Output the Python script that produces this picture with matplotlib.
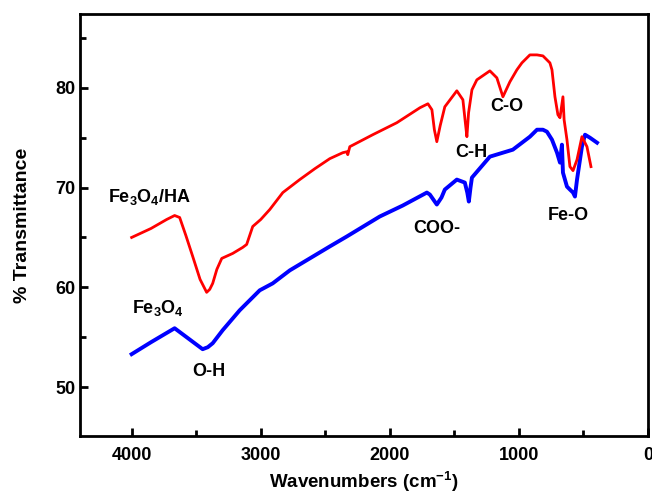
import matplotlib
matplotlib.use('Agg')
from matplotlib import pyplot as plt
from matplotlib.ticker import MultipleLocator

# FTIR spectra (wavenumber, % transmittance)
ha_wn = [4000, 3850, 3729, 3667, 3628, 3580, 3527, 3470, 3419, 3395, 3372, 3340, 3302,
         3217, 3140, 3109, 3062, 3000, 2930, 2829, 2698, 2580, 2465, 2364, 2330, 2326,
         2310, 2132, 1946, 1767, 1705, 1674, 1655, 1636, 1610, 1574, 1481, 1434, 1415,
         1403, 1390, 1364, 1326, 1225, 1171, 1124, 1070, 1016, 977, 915, 860, 814, 760,
         744, 721, 698, 682, 659, 650, 628, 605, 581, 550, 512, 473, 442]
ha_t = [65.0, 65.9, 66.8, 67.2, 67.0, 65.2, 63.1, 60.8, 59.5, 59.8, 60.4, 61.8, 62.9,
        63.4, 64.0, 64.3, 66.1, 66.8, 67.8, 69.5, 70.8, 71.9, 72.9, 73.5, 73.6, 73.3,
        74.1, 75.3, 76.5, 78.0, 78.4, 77.8, 75.8, 74.6, 76.2, 78.1, 79.7, 78.8, 76.5,
        75.1, 77.5, 79.8, 80.8, 81.7, 81.0, 79.1, 80.6, 81.8, 82.5, 83.3, 83.3, 83.2, 82.5,
        81.8, 79.1, 77.3, 77.0, 79.1, 76.8, 74.8, 72.1, 71.7, 72.8, 75.1, 74.1, 72.1]

fe_wn = [4000, 3850, 3667, 3574, 3450, 3410, 3372, 3295, 3163, 3008, 2907, 2775, 2620,
         2465, 2333, 2078, 1900, 1713, 1690, 1636, 1600, 1574, 1481, 1419, 1400, 1388,
         1375, 1364, 1225, 1047, 915, 860, 814, 783, 744, 705, 682, 667, 659, 628, 605,
         581, 566, 550, 512, 488, 450, 395]
fe_t = [53.3, 54.5, 55.9, 55.0, 53.8, 54.0, 54.4, 55.7, 57.7, 59.7, 60.4, 61.7, 62.9,
        64.1, 65.1, 67.1, 68.2, 69.5, 69.3, 68.3, 69.0, 69.8, 70.8, 70.5, 69.5, 68.6,
        70.0, 71.0, 73.1, 73.8, 75.1, 75.8, 75.8, 75.6, 74.8, 73.5, 72.5, 74.3, 71.5,
        70.1, 69.8, 69.5, 69.1, 70.8, 74.1, 75.3, 75.0, 74.5]

x_ticks = [4000, 3000, 2000, 1000, 0]
y_ticks = [50, 60, 70, 80]

plt.rcParams['font.family'] = ['Liberation Sans', 'DejaVu Sans']
plt.rcParams['font.weight'] = 'bold'
plt.rcParams['mathtext.fontset'] = 'custom'
plt.rcParams['mathtext.rm'] = 'Liberation Sans:bold'
plt.rcParams['mathtext.default'] = 'rm'
plt.rcParams['axes.unicode_minus'] = False

fig = plt.figure(figsize=(6.52, 4.96), dpi=100)
ax = fig.add_axes([0.1227, 0.121, 0.8712, 0.8508])

ax.plot(fe_wn, fe_t, color='#0000ff', lw=2.8, solid_joinstyle='round')
ax.plot(ha_wn, ha_t, color='#ff0000', lw=2.0, solid_joinstyle='round')

ax.set_xlim(4400, 0)
ax.set_ylim(45.1, 87.4)
ax.set_xticks(x_ticks)
ax.set_yticks(y_ticks)
ax.xaxis.set_minor_locator(MultipleLocator(500))
ax.yaxis.set_minor_locator(MultipleLocator(5))
ax.tick_params(which='both', direction='in', width=2, labelsize=13)
ax.tick_params(which='major', length=6)
ax.tick_params(which='minor', length=4)
ax.tick_params(axis='x', pad=8)
for lab in ax.get_xticklabels() + ax.get_yticklabels():
    lab.set_fontweight('bold')
for sp in ax.spines.values():
    sp.set_linewidth(2)

ax.set_xlabel('Wavenumbers (cm$^{-1}$)', fontsize=13.5, fontweight='bold', labelpad=4.5)
ax.set_ylabel('% Transmittance', fontsize=14, fontweight='bold', labelpad=17)

kw = dict(fontsize=13, fontweight='bold', ha='center', va='center')
ax.text(4186, 69.1, 'Fe$_3$O$_4$/HA', fontsize=13, fontweight='bold', ha='left', va='center')
ax.text(4000, 57.9, 'Fe$_3$O$_4$', fontsize=13, fontweight='bold', ha='left', va='center')
ax.text(3403, 51.6, 'O-H', **kw)
ax.text(1093, 78.1, 'C-O', **kw)
ax.text(1372, 73.5, 'C-H', **kw)
ax.text(1636, 65.9, 'COO-', **kw)
ax.text(620, 67.2, 'Fe-O', **kw)

fig.savefig('out.png', dpi=100)
